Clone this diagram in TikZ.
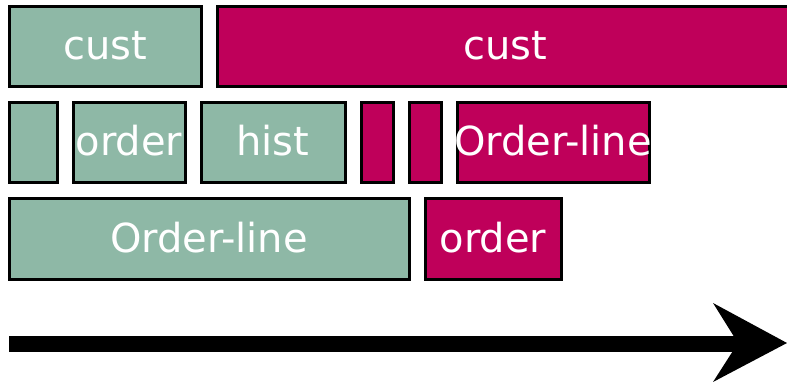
\documentclass[tikz,border=0pt]{standalone}
\usepackage{fontspec}
\setmainfont{DejaVu Sans}
\definecolor{sage}{RGB}{142,184,166}
\definecolor{berry}{RGB}{191,0,90}
\begin{document}
\begin{tikzpicture}[x=1pt,y=-1pt,
  blk/.style={draw=black, line width=3pt, inner sep=0pt, minimum height=80pt},
  gbox/.style={blk, fill=sage},
  mbox/.style={blk, fill=berry},
  lbl/.style={inner sep=0pt, text=white, text height=26pt, text depth=0pt,
              font=\fontsize{40}{40}\selectfont}]
\useasboundingbox (0,0) rectangle (787,382);

% row 1
\node[gbox, minimum width=192pt] (custA) at (105,47) {};
\node[lbl] at (custA.center) {cust};
\node[mbox, minimum width=576pt] (custB) at (505,47) {};
\node[lbl] at (custB.center) {cust};

% row 2
\node[gbox, minimum width=48pt]  (g1) at (33,143) {};
\node[gbox, minimum width=112pt] (orderA) at (129,143) {};
\node[lbl] at (orderA.center) {order};
\node[gbox, minimum width=144pt] (hist) at (273,143) {};
\node[lbl] at (hist.center) {hist};
\node[mbox, minimum width=32pt]  (m1) at (377,143) {};
\node[mbox, minimum width=32pt]  (m2) at (425,143) {};
\node[mbox, minimum width=192pt] (olB) at (553,143) {};
\node[lbl] at (olB.center) {Order-line};

% row 3
\node[gbox, minimum width=400pt] (olA) at (209,239) {};
\node[lbl] at (olA.center) {Order-line};
\node[mbox, minimum width=136pt] (orderB) at (493,239) {};
\node[lbl] at (orderB.center) {order};

% time arrow
\coordinate (tail) at (9,344);
\coordinate (notch) at (740,344);
\coordinate (tip) at (787,343);
\draw[line width=16pt] (tail) -- (notch);
\fill (tip) -- (713,303) -- (738,343) -- (713,382) -- cycle;
\end{tikzpicture}
\end{document}
